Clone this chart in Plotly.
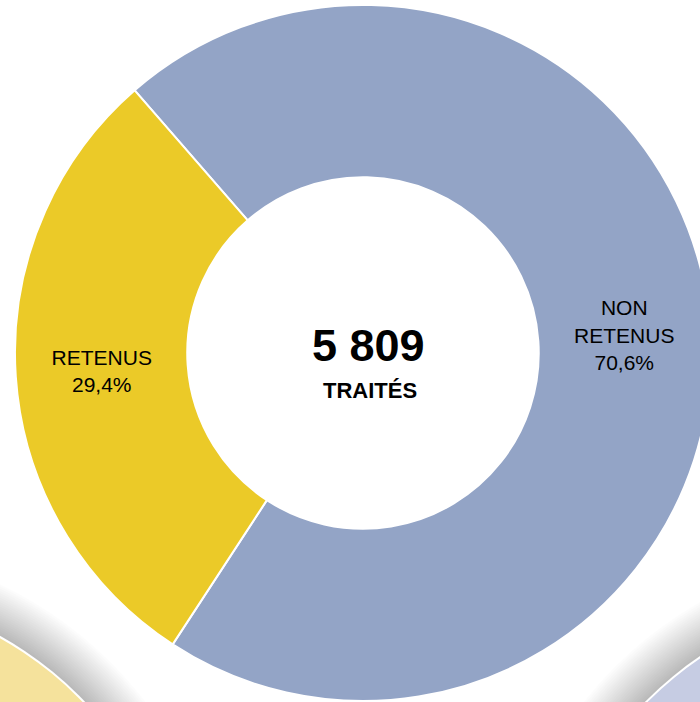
import plotly.graph_objects as go

# data
categories = ["NON<br>RETENUS", "RETENUS"]
values = [4101, 1708]
colors = ["#93A4C6", "#EBCA28"]
center_label = "TRAITÉS"

total = sum(values)
total_txt = f"{total:,}".replace(",", " ")

W, H = 726, 702  # a bit wider than the window so the ring is clipped on the right


def px(x):
    return x / W


def py(y):
    return 1 - y / H


fig = go.Figure()

fig.add_trace(go.Pie(
    labels=categories,
    values=values,
    hole=0.505,
    sort=False,
    direction="clockwise",
    rotation=-41,
    marker=dict(colors=colors, line=dict(color="white", width=2)),
    texttemplate="%{label}<br>%{percent:.1%}",
    textposition="inside",
    insidetextorientation="horizontal",
    textfont=dict(family="Liberation Sans, Arial", size=21, color="black"),
    hoverinfo="label+value+percent",
    showlegend=False,
    domain=dict(x=[0, 1], y=[0.0014, 0.9929]),
))

# neighbouring pale circles in the corners, with a soft shadow
shapes = []
for cx, cy, r, fill in [(-173, 947, 354, "#F5E29C"), (897, 949, 351, "#C6CCE3")]:
    for k in range(24, 0, -1):
        rr = r + 2 * k
        shapes.append(dict(type="circle", xref="paper", yref="paper",
                           x0=px(cx - rr), x1=px(cx + rr), y0=py(cy + rr), y1=py(cy - rr),
                           fillcolor="rgba(0,0,0,0.011)", line=dict(width=0), layer="below"))
    shapes.append(dict(type="circle", xref="paper", yref="paper",
                       x0=px(cx - r - 2), x1=px(cx + r + 2), y0=py(cy + r + 2), y1=py(cy - r - 2),
                       fillcolor="white", line=dict(width=0), layer="below"))
    shapes.append(dict(type="circle", xref="paper", yref="paper",
                       x0=px(cx - r), x1=px(cx + r), y0=py(cy + r), y1=py(cy - r),
                       fillcolor=fill, line=dict(width=0), layer="below"))

fig.update_layout(
    width=W, height=H,
    margin=dict(l=0, r=0, t=0, b=0),
    paper_bgcolor="white",
    separators=", ",
    shapes=shapes,
    annotations=[
        dict(text=f"<b>{total_txt}</b>", x=px(368), y=py(345), xref="paper", yref="paper",
             showarrow=False, font=dict(family="Liberation Sans, Arial", size=45, color="black")),
        dict(text=f"<b>{center_label}</b>", x=px(370), y=py(390), xref="paper", yref="paper",
             showarrow=False, font=dict(family="Liberation Sans, Arial", size=22, color="black")),
    ],
)

fig.write_html("out.html", config={"displayModeBar": False},
               post_script="document.body.style.margin='0';document.body.style.overflow='hidden';")
